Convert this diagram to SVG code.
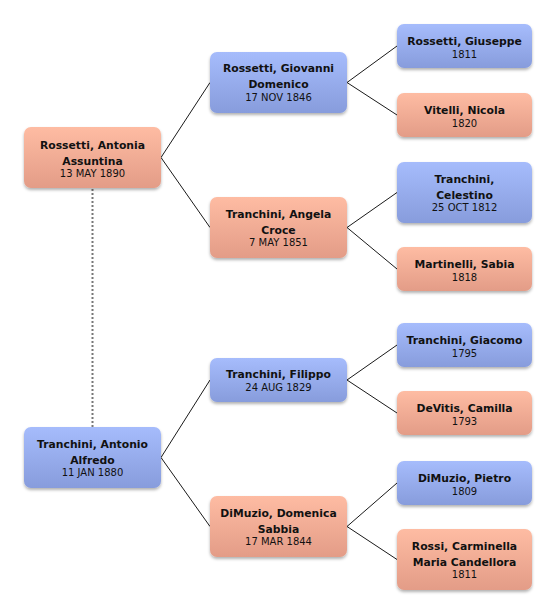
<svg xmlns="http://www.w3.org/2000/svg" width="556" height="614" viewBox="0 0 556 614">
<defs>
<linearGradient id="gBlue" x1="0" y1="0" x2="0" y2="1">
<stop offset="0" stop-color="#a6bcfc"/>
<stop offset="1" stop-color="#879cdc"/>
</linearGradient>
<linearGradient id="gPink" x1="0" y1="0" x2="0" y2="1">
<stop offset="0" stop-color="#febca3"/>
<stop offset="1" stop-color="#e39c87"/>
</linearGradient>
<filter id="sh" x="-10%" y="-10%" width="120%" height="130%">
<feDropShadow dx="0" dy="2" stdDeviation="1.6" flood-color="#000" flood-opacity="0.3"/>
</filter>
</defs>
<style>
.m{fill:url(#gBlue);filter:url(#sh)}
.f{fill:url(#gPink);filter:url(#sh)}
.n{font-family:"DejaVu Sans",Verdana,sans-serif;font-weight:bold;font-size:10.8px;fill:#111;text-anchor:middle}
.d{font-family:"DejaVu Sans",Verdana,sans-serif;font-size:10px;fill:#111;text-anchor:middle}
.c{stroke:#1a1a1a;stroke-width:1;fill:none}
.dash{stroke:#777;stroke-width:2;stroke-dasharray:2 2;fill:none}
</style>
<rect width="556" height="614" fill="#fff"/>
<g id="connectors">
<line class="dash" x1="92.5" y1="189" x2="92.5" y2="427"/>
<polyline class="c" points="210,82.5 161,157.5 210,227.5"/>
<polyline class="c" points="210,380 161,457.5 210,526.5"/>
<polyline class="c" points="397,46 347,82.5 397,115"/>
<polyline class="c" points="397,192.5 347,227.5 397,269"/>
<polyline class="c" points="397,345 347,380 397,413"/>
<polyline class="c" points="397,483 347,526.5 397,559.5"/>
</g>
<g id="n-antonia">
<rect class="f" x="24" y="127" width="137" height="61" rx="7"/>
<text class="n" x="92.5" y="148.5">Rossetti, Antonia</text>
<text class="n" x="92.5" y="164.5">Assuntina</text>
<text class="d" x="92.5" y="176.5">13 MAY 1890</text>
</g>
<g id="n-antonio">
<rect class="m" x="24" y="427" width="137" height="61" rx="7"/>
<text class="n" x="92.5" y="448">Tranchini, Antonio</text>
<text class="n" x="92.5" y="464">Alfredo</text>
<text class="d" x="92.5" y="476">11 JAN 1880</text>
</g>
<g id="n-giovanni">
<rect class="m" x="210" y="52" width="137" height="61" rx="7"/>
<text class="n" x="278.5" y="72">Rossetti, Giovanni</text>
<text class="n" x="278.5" y="88">Domenico</text>
<text class="d" x="278.5" y="100.5">17 NOV 1846</text>
</g>
<g id="n-angela">
<rect class="f" x="210" y="197" width="137" height="61" rx="7"/>
<text class="n" x="278.5" y="217.5">Tranchini, Angela</text>
<text class="n" x="278.5" y="233.5">Croce</text>
<text class="d" x="278.5" y="246">7 MAY 1851</text>
</g>
<g id="n-filippo">
<rect class="m" x="210" y="358" width="137" height="44" rx="7"/>
<text class="n" x="278.5" y="378">Tranchini, Filippo</text>
<text class="d" x="278.5" y="391">24 AUG 1829</text>
</g>
<g id="n-domenica">
<rect class="f" x="210" y="496" width="137" height="61" rx="7"/>
<text class="n" x="278.5" y="516.5">DiMuzio, Domenica</text>
<text class="n" x="278.5" y="532.5">Sabbia</text>
<text class="d" x="278.5" y="545">17 MAR 1844</text>
</g>
<g id="n-giuseppe">
<rect class="m" x="397" y="24" width="135" height="44" rx="7"/>
<text class="n" x="464.5" y="45">Rossetti, Giuseppe</text>
<text class="d" x="464.5" y="57.5">1811</text>
</g>
<g id="n-vitelli">
<rect class="f" x="397" y="93" width="135" height="44" rx="7"/>
<text class="n" x="464.5" y="114">Vitelli, Nicola</text>
<text class="d" x="464.5" y="126.5">1820</text>
</g>
<g id="n-celestino">
<rect class="m" x="397" y="162" width="135" height="61" rx="7"/>
<text class="n" x="464.5" y="182.5">Tranchini,</text>
<text class="n" x="464.5" y="198.5">Celestino</text>
<text class="d" x="464.5" y="211">25 OCT 1812</text>
</g>
<g id="n-martinelli">
<rect class="f" x="397" y="247" width="135" height="44" rx="7"/>
<text class="n" x="464.5" y="268">Martinelli, Sabia</text>
<text class="d" x="464.5" y="280.5">1818</text>
</g>
<g id="n-giacomo">
<rect class="m" x="397" y="323" width="135" height="44" rx="7"/>
<text class="n" x="464.5" y="344">Tranchini, Giacomo</text>
<text class="d" x="464.5" y="356.5">1795</text>
</g>
<g id="n-devitis">
<rect class="f" x="397" y="391" width="135" height="44" rx="7"/>
<text class="n" x="464.5" y="412">DeVitis, Camilla</text>
<text class="d" x="464.5" y="424.5">1793</text>
</g>
<g id="n-pietro">
<rect class="m" x="397" y="461" width="135" height="44" rx="7"/>
<text class="n" x="464.5" y="482">DiMuzio, Pietro</text>
<text class="d" x="464.5" y="494.5">1809</text>
</g>
<g id="n-rossi">
<rect class="f" x="397" y="529" width="135" height="61" rx="7"/>
<text class="n" x="464.5" y="549.5">Rossi, Carminella</text>
<text class="n" x="464.5" y="565.5">Maria Candellora</text>
<text class="d" x="464.5" y="578">1811</text>
</g>
</svg>
